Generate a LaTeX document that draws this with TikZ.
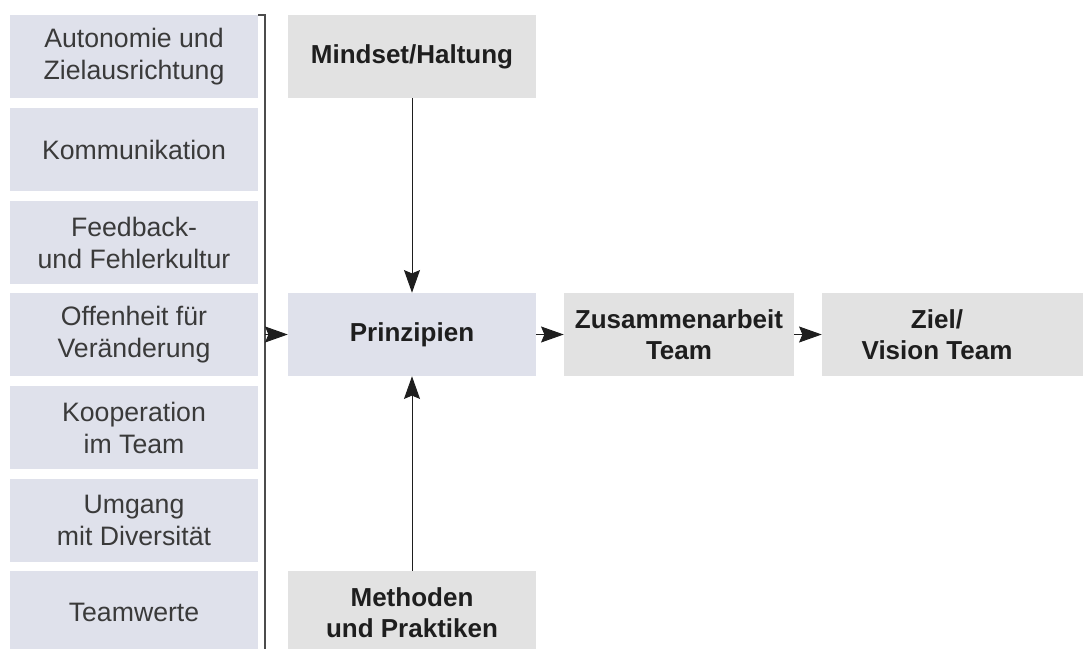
\documentclass[tikz,border=0pt]{standalone}
\usepackage{fontspec}
\setmainfont{Liberation Sans}
\usepackage{xcolor}
\usetikzlibrary{arrows.meta}

\definecolor{blaugrau}{HTML}{DFE1EB}
\definecolor{hellgrau}{HTML}{E2E2E2}
\definecolor{schrift}{HTML}{3A3A3A}
\definecolor{linie}{HTML}{1E1E1E}

\begin{document}
\begin{tikzpicture}[x=0.75pt,y=-0.75pt,
  feld/.style={fill=blaugrau, text=schrift, inner sep=0pt, align=center,
    minimum width=186pt, minimum height=62.25pt,
    font=\fontsize{20}{24}\selectfont},
  kasten/.style={fill=hellgrau, text=linie, inner sep=0pt, align=center,
    minimum width=186pt, minimum height=62.25pt,
    font=\fontsize{19.5}{23.5}\selectfont\bfseries},
  pfeil/.style={-{Stealth[length=17pt,width=12pt,inset=2.5pt]}, linie, line width=0.75pt}]
\useasboundingbox (0,0) rectangle (1083,649);
\clip (0,0) rectangle (1083,649);
% linke Spalte
\node [feld] (autonomie) at (134,57) {Autonomie und\\Zielausrichtung};
\node [feld] (kommunikation) at (134,149.5) {Kommunikation};
\node [feld] (feedback) at (134,242.5) {Feedback-\\und Fehlerkultur};
\node [feld] (offenheit) at (134,334.5) {Offenheit für\\Veränderung};
\node [feld] (kooperation) at (134,427.5) {Kooperation\\im Team};
\node [feld] (umgang) at (134,520.5) {Umgang\\mit Diversität};
\node [feld] (teamwerte) at (134,612.5) {Teamwerte};
% Klammer
\coordinate (kopf) at (258,15);
\coordinate (ecke) at (265,15);
\coordinate (fuss) at (265,660);
\coordinate (abzweig) at (265,334.5);
\draw [line width=1.1pt, black!70] (kopf) -- (ecke) -- (fuss);
% Kästen
\node [kasten] (mindset) at (412,56.5) {Mindset/Haltung};
\node [kasten, fill=blaugrau] (prinzipien) at (412,334.5) {Prinzipien};
\node [kasten] (methoden) at (412,612.5) {Methoden\\und Praktiken};
\node [kasten, minimum width=172.5pt] (zusammen) at (679,334.5) {Zusammenarbeit\\Team};
\node [kasten, minimum width=172.5pt] (ziel) at (937,334.5) {Ziel/\\Vision Team};
\fill [hellgrau] (ziel.north east) rectangle ([xshift=30pt]ziel.south east);
% Pfeile
\draw [pfeil] (mindset) -- (prinzipien);
\draw [pfeil] (methoden) -- (prinzipien);
\draw [pfeil] (abzweig) -- (prinzipien);
\draw [pfeil] (prinzipien) -- (zusammen);
\draw [pfeil] (zusammen) -- (ziel);
\end{tikzpicture}
\end{document}
